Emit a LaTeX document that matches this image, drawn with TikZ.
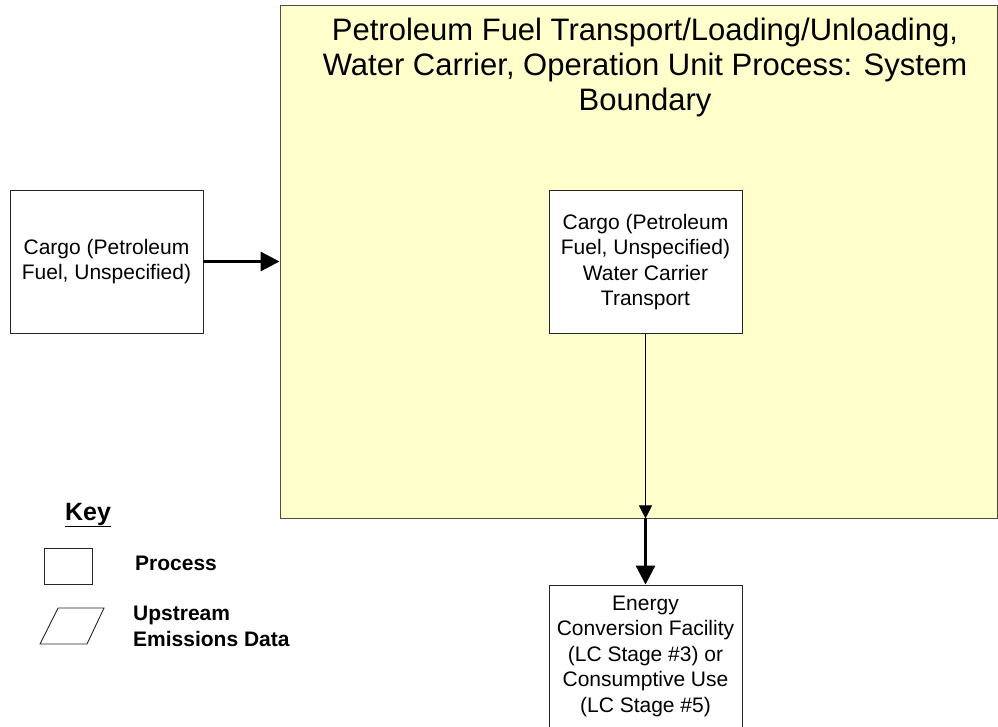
\documentclass[tikz,border=0pt]{standalone}
\usepackage{fontspec}
\setmainfont{Liberation Sans}
\usetikzlibrary{arrows.meta}
\definecolor{boundfill}{HTML}{FFFFCC}
\begin{document}
\begin{tikzpicture}[x=1pt,y=-1pt,
    proc/.style={draw=black!85,fill=white,line width=0.9pt,align=center,
      minimum width=193,minimum height=143,inner sep=0pt,
      font=\fontsize{21}{25.5}\selectfont},
    flow/.style={line width=3pt,-{Triangle[length=19pt,width=19pt]}},
    thinflow/.style={line width=0.9pt,-{Triangle[length=13pt,width=13pt]}},
    keytext/.style={anchor=west,align=left,inner sep=0pt,
      font=\bfseries\fontsize{21}{26}\selectfont}]
  \useasboundingbox (0,0) rectangle (998,727);
  % system boundary
  \node[draw=black!70,fill=boundfill,line width=0.9pt,
    minimum width=717,minimum height=513,inner sep=0pt] (bound) at (638.5,261.5) {};
  \node[anchor=north,align=center,inner sep=0pt,
    font=\fontsize{31}{35}\selectfont] (title) at (645,18)
    {Petroleum Fuel Transport/Loading/Unloading,\\
     Water Carrier, Operation Unit Process: System\\
     Boundary};
  % processes
  \node[proc] (cargo) at (106.5,261.5) {Cargo (Petroleum\\Fuel, Unspecified)};
  \node[proc] (water) at (645.5,262) {Cargo (Petroleum\\Fuel, Unspecified)\\Water Carrier\\Transport};
  \node[proc,minimum height=142] (energy) at (645.5,656)
    {Energy\\Conversion Facility\\(LC Stage \#3) or\\Consumptive Use\\(LC Stage \#5)};
  \coordinate (exit) at (water.south |- bound.south);
  \draw[flow] (cargo.east) -- (cargo.east -| bound.west);
  \draw[thinflow] (water.south) -- (exit);
  \draw[flow] (exit) -- (energy.north);
  % key
  \node[inner sep=0pt,font=\bfseries\fontsize{25}{30}\selectfont] (key) at (88,515) {\underline{Key}};
  \node[draw=black!85,line width=0.9pt,minimum width=48,minimum height=36,inner sep=0pt] (keyproc) at (68,566) {};
  \draw[black!85,line width=0.9pt] (58,608) -- (104,608) -- (87,644) -- (40,644) -- cycle;
  \node[keytext] (keyproclbl) at (135,563) {Process};
  \node[keytext] (keyupslbl) at (133,626) {Upstream\\Emissions Data};
\end{tikzpicture}
\end{document}
